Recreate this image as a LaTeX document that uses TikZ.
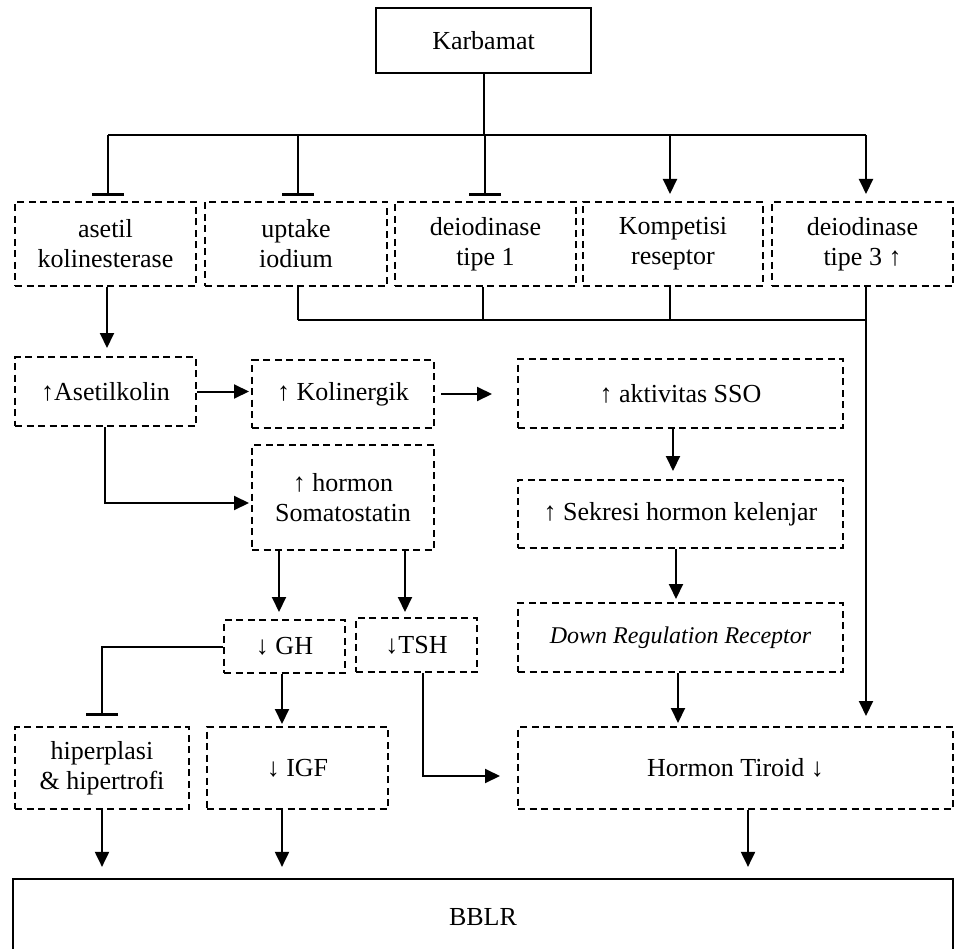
\documentclass[tikz,border=0pt]{standalone}
\usepackage{fontspec}
\setmainfont{Liberation Serif}
\usetikzlibrary{arrows.meta,calc}
\begin{document}
\begin{tikzpicture}[x=1pt,y=-1pt,
  every node/.style={font=\fontsize{26}{30}\selectfont, align=center, inner sep=0pt},
  dbox/.style={draw, line width=2pt, dash pattern=on 7pt off 4.5pt},
  sbox/.style={draw, line width=2.2pt},
  ln/.style={line width=2pt},
  arr/.style={ln, -{Triangle[length=15pt,width=14pt]}},
  inh/.style={ln, -{Bar[width=32pt,line width=2.8pt]}}]
\useasboundingbox (0,0) rectangle (955,949);
% nodes
\node[sbox, minimum width=215pt, minimum height=65pt] (karb) at (483.5,40.5) {Karbamat};
\node[dbox, minimum width=181pt, minimum height=84pt] (b1) at (105.5,244) {asetil\\kolinesterase};
\node[dbox, minimum width=182pt, minimum height=84pt] (b2) at (296,244) {uptake\\iodium};
\node[dbox, minimum width=181pt, minimum height=84pt] (b3) at (485.5,244) {deiodinase\\tipe 1};
\node[dbox, minimum width=180pt, minimum height=84pt] (b4) at (673,244) {Kompetisi\\reseptor};
\node[dbox, minimum width=181pt, minimum height=84pt] (b5) at (862.5,244) {deiodinase\\tipe 3 ↑};
\node[dbox, minimum width=181pt, minimum height=69pt] (ach) at (105.5,391.5) {↑Asetilkolin};
\node[dbox, minimum width=182pt, minimum height=68pt] (kol) at (343,394) {↑ Kolinergik};
\node[dbox, minimum width=325pt, minimum height=69pt] (sso) at (680.5,393.5) {↑ aktivitas SSO};
\node[dbox, minimum width=182pt, minimum height=105pt] (soma) at (343,497.5) {↑ hormon\\Somatostatin};
\node[dbox, minimum width=325pt, minimum height=68pt] (sek) at (680.5,514) {↑ Sekresi hormon kelenjar};
\node[dbox, minimum width=121pt, minimum height=53pt] (gh) at (284.5,646.5) {↓ GH};
\node[dbox, minimum width=121pt, minimum height=54pt] (tsh) at (416.5,645) {↓TSH};
\node[dbox, minimum width=325pt, minimum height=69pt, font=\fontsize{24}{28}\selectfont\itshape] (dr) at (680.5,637.5) {Down Regulation Receptor};
\node[dbox, minimum width=174pt, minimum height=82pt] (hip) at (102,768) {hiperplasi\\\& hipertrofi};
\node[dbox, minimum width=181pt, minimum height=82pt] (igf) at (297.5,768) {↓ IGF};
\node[dbox, minimum width=435pt, minimum height=82pt] (ht) at (735.5,768) {Hormon Tiroid ↓};
\node[sbox, minimum width=940pt, minimum height=76pt] (bblr) at (483,917) {BBLR};
% top bracket
\coordinate (h1) at (108,135);
\coordinate (h2) at (298,135);
\coordinate (h3) at (485,135);
\coordinate (h4) at (670,135);
\coordinate (h5) at (866,135);
\draw[ln] (karb.south) -- (karb.south |- h1);
\draw[ln] (h1) -- (h5);
\draw[inh, shorten >=5pt] (h1) -- (h1 |- b1.north);
\draw[inh, shorten >=5pt] (h2) -- (h2 |- b2.north);
\draw[inh, shorten >=5pt] (h3) -- (h3 |- b3.north);
\draw[arr, shorten >=7pt] (h4) -- (h4 |- b4.north);
\draw[arr, shorten >=7pt] (h5) -- (h5 |- b5.north);
% collector
\coordinate (c2) at (298,320);
\coordinate (c5) at (866,320);
\draw[ln] (c2 |- b2.south) -- (c2);
\draw[ln] (483,0 |- b3.south) -- (483,320);
\draw[ln] (670,0 |- b4.south) -- (670,320);
\draw[ln] (c2) -- (c5);
\draw[arr, shorten >=10pt] (c5 |- b5.south) -- (c5 |- ht.north);
% left chain
\coordinate (a1) at (107,0);
\draw[arr, shorten >=8pt] (a1 |- b1.south) -- (a1 |- ach.north);
\draw[arr, shorten >=2pt] (ach.east) -- (ach.east -| kol.west);
\draw[arr, shorten <=6pt, shorten >=25pt] (kol.east) -- (kol.east -| sso.west);
\coordinate (a2) at (105,0);
\draw[arr, shorten >=2pt] (a2 |- ach.south) |- ([yshift=-5.5pt]soma.west);
% right chain
\coordinate (r1) at (673,0);
\coordinate (r2) at (676,0);
\coordinate (r3) at (678,0);
\draw[arr, shorten >=8pt] (r1 |- sso.south) -- (r1 |- sek.north);
\draw[arr, shorten >=3pt] (r2 |- sek.south) -- (r2 |- dr.north);
\draw[arr, shorten >=3pt] (r3 |- dr.south) -- (r3 |- ht.north);
% somatostatin outputs
\coordinate (s1) at (279,0);
\coordinate (s2) at (405,0);
\draw[arr, shorten >=7pt] (s1 |- soma.south) -- (s1 |- gh.north);
\draw[arr, shorten >=5pt] (s2 |- soma.south) -- (s2 |- tsh.north);
\draw[inh, shorten >=10pt] (gh.west) -| (hip.north);
\coordinate (g1) at (282,0);
\draw[arr, shorten >=2pt] (g1 |- gh.south) -- (g1 |- igf.north);
\coordinate (t1) at (423,0);
\draw[arr, shorten >=17pt] (t1 |- tsh.south) |- ([yshift=-8pt]ht.west);
% to BBLR
\coordinate (e1) at (102,0);
\coordinate (e2) at (282,0);
\coordinate (e3) at (748,0);
\draw[arr, shorten >=11pt] (e1 |- hip.south) -- (e1 |- bblr.north);
\draw[arr, shorten >=11pt] (e2 |- igf.south) -- (e2 |- bblr.north);
\draw[arr, shorten >=11pt] (e3 |- ht.south) -- (e3 |- bblr.north);
\end{tikzpicture}
\end{document}
